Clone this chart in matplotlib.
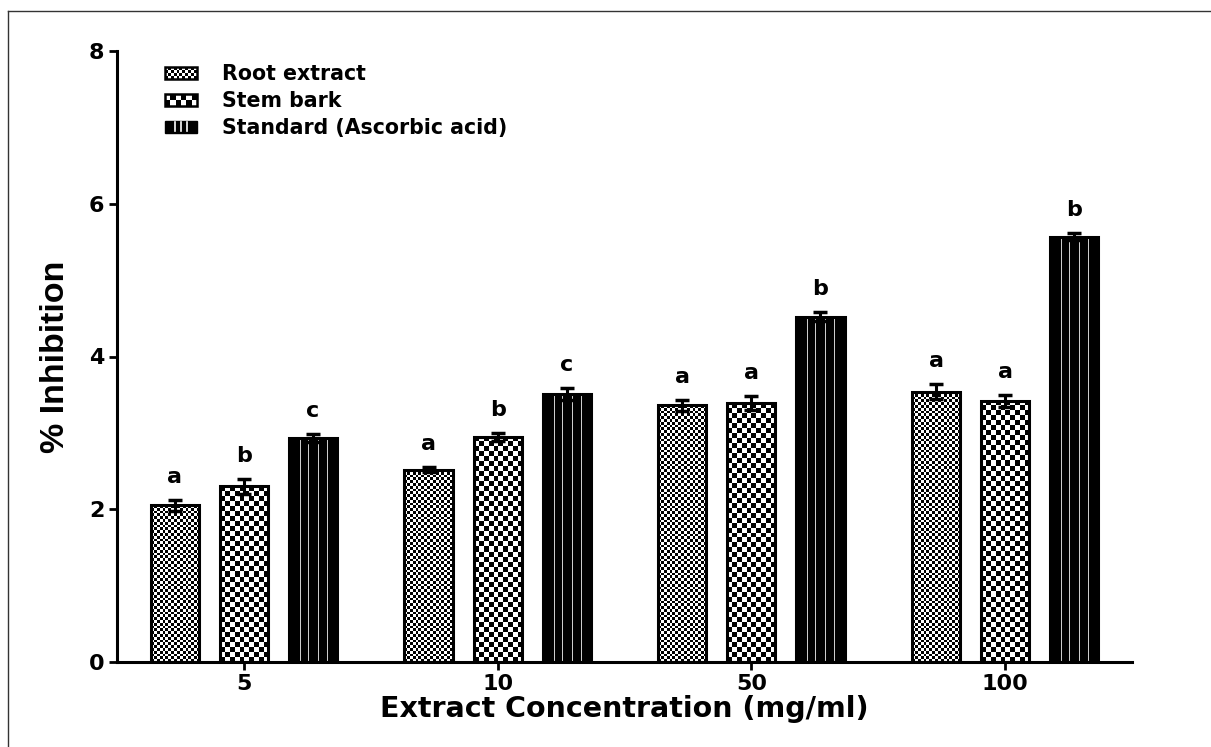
import matplotlib
matplotlib.use('Agg')
import matplotlib.pyplot as plt
import numpy as np
from matplotlib.patches import Rectangle, Patch
from matplotlib.lines import Line2D
from matplotlib.legend_handler import HandlerBase

# ---------------- data ----------------
concentrations = ['5', '10', '50', '100']
series_names = ['Root extract', 'Stem bark', 'Standard (Ascorbic acid)']
root_vals = [2.05, 2.52, 3.36, 3.54]
root_err = [0.07, 0.03, 0.07, 0.10]
stem_vals = [2.30, 2.95, 3.39, 3.42]
stem_err = [0.10, 0.05, 0.09, 0.08]
std_vals = [2.93, 3.51, 4.52, 5.57]
std_err = [0.05, 0.08, 0.06, 0.05]
root_letters = ['a', 'a', 'a', 'a']
stem_letters = ['b', 'b', 'a', 'a']
std_letters = ['c', 'c', 'b', 'b']
y_ticks = [0, 2, 4, 6, 8]

plt.rcParams['font.family'] = ['DejaVu Sans']
plt.rcParams['font.weight'] = 'bold'

W, H = 1211, 747
fig = plt.figure(figsize=(W / 100, H / 100), dpi=100)
fig.patch.set_facecolor('white')

# page border (left and top edges visible)
fig.add_artist(Line2D([8 / W, 8 / W], [0, 1 - 11 / H], transform=fig.transFigure,
                      color='#333333', lw=1))
fig.add_artist(Line2D([8 / W, 1], [1 - 11 / H, 1 - 11 / H], transform=fig.transFigure,
                      color='#333333', lw=1))

ax_l, ax_r, ax_t, ax_b = 117, 1132, 51, 662
ax = fig.add_axes([ax_l / W, 1 - ax_b / H, (ax_r - ax_l) / W, (ax_b - ax_t) / H])

x = np.arange(len(concentrations))
bw = 0.19
off = 0.272
ax.set_xlim(-0.5, 3.5)
ax.set_ylim(0, 8)

series = [(root_vals, root_err, root_letters, 'fine'),
          (stem_vals, stem_err, stem_letters, 'coarse'),
          (std_vals, std_err, std_letters, 'stripes')]


def texture(kind, nx_px, ny_px):
    if kind in ('fine', 'coarse'):
        c = 2.8 if kind == 'fine' else 5.0
        nx = max(int(round(nx_px / c)), 1)
        ny = max(int(round(ny_px / c)), 1)
        i, j = np.indices((ny, nx))
        return ((i + j) % 2).astype(float)
    # stripes: black with thin white vertical lines
    nx = 48
    arr = np.zeros((1, nx))
    for col in (11, 19, 28, 37):
        arr[0, col] = 0.8
    return arr


fig.canvas.draw()
for k, (vals, errs, letters, kind) in enumerate(series):
    pos = x + (k - 1) * off
    bars = ax.bar(pos, vals, width=bw, facecolor='white', edgecolor='none', zorder=1)
    for b in bars:
        x0, w, h = b.get_x(), b.get_width(), b.get_height()
        p0 = ax.transData.transform((x0, 0))
        p1 = ax.transData.transform((x0 + w, h))
        arr = texture(kind, abs(p1[0] - p0[0]), abs(p1[1] - p0[1]))
        im = ax.imshow(arr, extent=(x0, x0 + w, 0, h), cmap='gray', vmin=0, vmax=1,
                       interpolation='nearest', origin='lower', aspect='auto', zorder=2)
        im.set_clip_path(b)
    ax.bar(pos, vals, width=bw, facecolor='none', edgecolor='black', linewidth=2.2, zorder=3)
    ax.errorbar(pos, vals, yerr=errs, fmt='none', ecolor='black', elinewidth=2.2,
                capsize=5, capthick=2.5, zorder=4)
    for xi, v, e, t in zip(pos, vals, errs, letters):
        ax.text(xi, v + e + 0.3, t, ha='center', va='center', fontsize=16,
                fontweight='bold', zorder=5)

ax.set_xlim(-0.5, 3.5)
ax.set_ylim(0, 8)
ax.set_xticks(x)
ax.set_xticklabels(concentrations)
ax.set_yticks(y_ticks)
for s in ['top', 'right']:
    ax.spines[s].set_visible(False)
for s in ['left', 'bottom']:
    ax.spines[s].set_linewidth(2.2)
ax.tick_params(axis='both', direction='out', length=6, width=2, labelsize=16, pad=3)
for lab in ax.get_xticklabels() + ax.get_yticklabels():
    lab.set_fontweight('bold')

ax.set_ylabel('% Inhibition', fontsize=24.5, fontweight='bold',
              family=['Liberation Sans', 'DejaVu Sans'])
ax.yaxis.set_label_coords(-46 / (ax_r - ax_l), 0.5)
ax.set_xlabel('Extract Concentration (mg/ml)', fontsize=20.5, fontweight='bold')
ax.xaxis.set_label_coords(0.5, -(709 - ax_b) / (ax_b - ax_t))
ax.xaxis.label.set_va('center')


# ---------------- legend ----------------
class TextureHandler(HandlerBase):
    def __init__(self, kind):
        super().__init__()
        self.kind = kind

    def create_artists(self, legend, orig_handle, xdescent, ydescent, width, height,
                       fontsize, trans):
        x0, y0 = -xdescent, -ydescent
        arts = []
        if self.kind == 'stripes':
            arts.append(Rectangle((x0, y0), width, height, facecolor='black',
                                  edgecolor='black', lw=1, transform=trans))
            for f in (0.3, 0.5, 0.7):
                arts.append(Line2D([x0 + f * width] * 2, [y0 + 0.15 * height, y0 + 0.85 * height],
                                   color='white', lw=1.2, transform=trans))
            return arts
        nx, ny = (11, 4) if self.kind == 'fine' else (6, 2)
        arts.append(Rectangle((x0, y0), width, height, facecolor='white',
                              edgecolor='none', transform=trans))
        cw, ch = width / nx, height / ny
        for i in range(ny):
            for j in range(nx):
                if (i + j) % 2 == 0:
                    arts.append(Rectangle((x0 + j * cw, y0 + i * ch), cw, ch,
                                          facecolor='black', edgecolor='none', transform=trans))
        arts.append(Rectangle((x0, y0), width, height, facecolor='none',
                              edgecolor='black', lw=1.8, transform=trans))
        return arts


handles = [Patch(label=n) for n in series_names]
kinds = ['fine', 'coarse', 'stripes']
leg = ax.legend(handles, series_names, loc='upper left',
                bbox_to_anchor=(165 / W, 1 - 64 / H), bbox_transform=fig.transFigure,
                frameon=False, borderpad=0, borderaxespad=0,
                handlelength=1.55, handleheight=0.55, handletextpad=1.2, labelspacing=0.34,
                prop={'weight': 'bold', 'size': 14.8},
                handler_map={h: TextureHandler(k) for h, k in zip(handles, kinds)})

fig.savefig('out.png', dpi=100, facecolor='white')
